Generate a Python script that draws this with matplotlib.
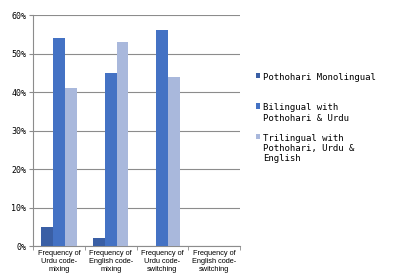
import numpy as np
import matplotlib
matplotlib.use("Agg")
import matplotlib.pyplot as plt
from matplotlib.ticker import PercentFormatter

categories = [
    "Frequency of\nUrdu code-\nmixing",
    "Frequency of\nEnglish code-\nmixing",
    "Frequency of\nUrdu code-\nswitching",
    "Frequency of\nEnglish code-\nswitching",
]
series_names = [
    "Pothohari Monolingual",
    "Bilingual with\nPothohari & Urdu",
    "Trilingual with\nPothohari, Urdu &\nEnglish",
]
monolingual = [5, 2, 0, 0]
bilingual = [54, 45, 56, 0]
trilingual = [41, 53, 44, 0]
colors = ["#3A5FA5", "#4472C4", "#A9B8DC"]

plt.rcParams["font.family"] = ["DejaVu Sans Mono"]

fig = plt.figure(figsize=(3.98, 2.79), dpi=100)
ax = fig.add_axes([0.083, 0.118, 0.52, 0.828])

x = np.arange(len(categories))
width = 0.23
handles = []
for i, vals in enumerate([monolingual, bilingual, trilingual]):
    h = ax.bar(x + (i - 1) * width, vals, width, color=colors[i], zorder=3,
               label=series_names[i])
    handles.append(h)

ax.set_xlim(-0.5, len(categories) - 0.5)
ax.set_ylim(0, 60)
ax.set_yticks(range(0, 61, 10))
ax.yaxis.set_major_formatter(PercentFormatter(decimals=0))
ax.grid(axis="y", color="#8c8c8c", linewidth=0.8, zorder=0)
ax.set_axisbelow(True)

ax.set_xticks(x)
ax.set_xticklabels(categories, fontsize=5.3, linespacing=1.15,
                   family="Liberation Sans")
ax.set_xticks(np.arange(-0.5, len(categories), 1), minor=True)
ax.tick_params(axis="x", which="major", length=0, pad=3)
ax.tick_params(axis="x", which="minor", length=3, color="#8c8c8c")
ax.tick_params(axis="y", labelsize=6, length=3, color="#8c8c8c", pad=2)

for side in ["top", "right"]:
    ax.spines[side].set_visible(False)
for side in ["left", "bottom"]:
    ax.spines[side].set_color("#8c8c8c")
    ax.spines[side].set_linewidth(0.8)

# the first entry gets an extra blank line so the gaps match the original
leg_labels = [series_names[0] + "\n"] + series_names[1:]
leg = fig.legend(handles, leg_labels, loc="upper left",
                 bbox_to_anchor=(0.622, 0.767),
                 frameon=False, fontsize=6.5, handlelength=0.5, handleheight=0.5,
                 handletextpad=0.3, labelspacing=1.2)
# put each marker next to the first line of its label
for col in leg._legend_handle_box.get_children():
    for item in col.get_children():
        item.align = "top"

fig.savefig("out.png", dpi=100)
